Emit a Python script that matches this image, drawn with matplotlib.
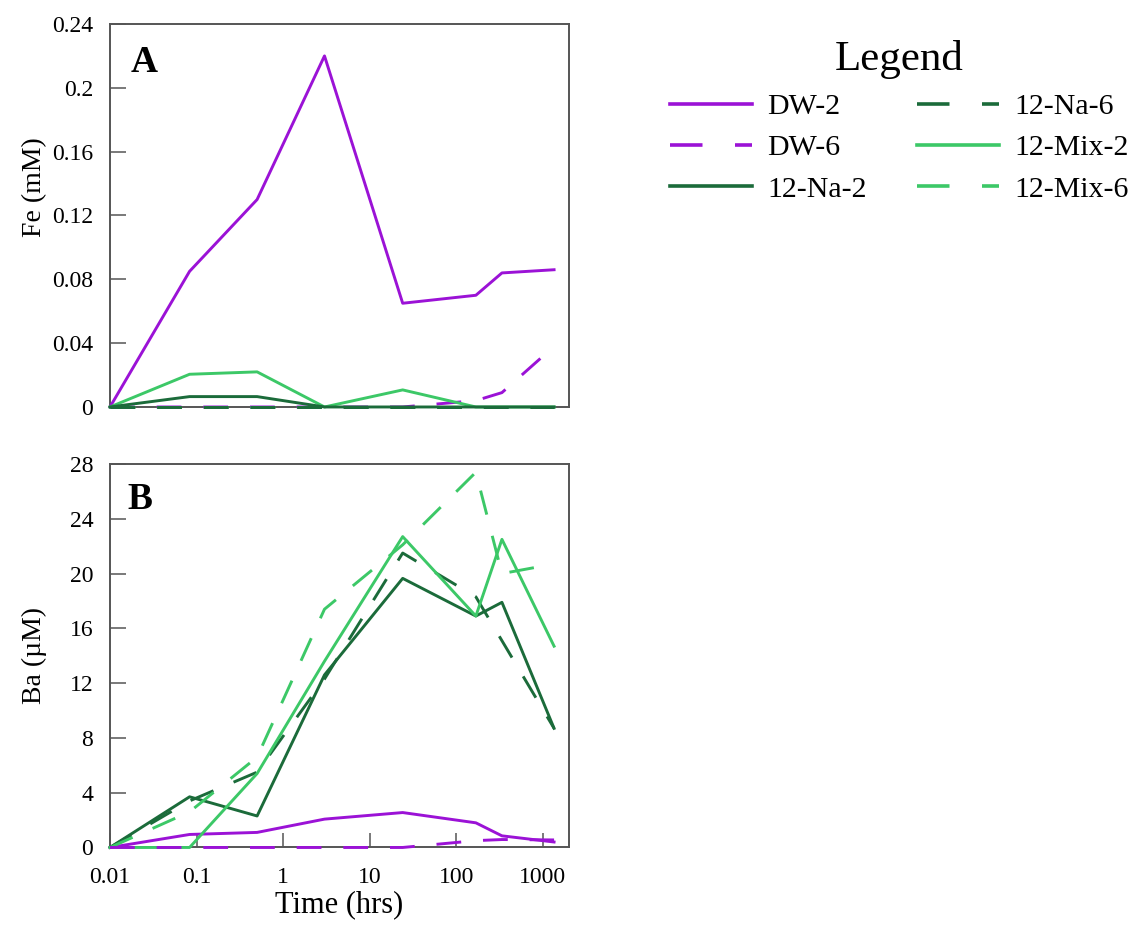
import matplotlib
matplotlib.use("Agg")
import matplotlib.pyplot as plt
from matplotlib.lines import Line2D

plt.rcParams["font.family"] = ["Liberation Serif", "DejaVu Serif"]

# ---- data ----
time_hrs = [0.01, 0.083, 0.5, 3, 24, 168, 336, 1344]
series = ["DW-2", "DW-6", "12-Na-2", "12-Na-6", "12-Mix-2", "12-Mix-6"]

fe_dw2 = [0, 0.085, 0.13, 0.22, 0.065, 0.07, 0.084, 0.086]
fe_dw6 = [0, 0, 0, 0, 0, 0.004, 0.009, 0.038]
fe_na2 = [0, 0.0065, 0.0065, 0, 0, 0, 0, 0]
fe_na6 = [0, 0, 0, 0, 0, 0, 0, 0]
fe_mix2 = [0, 0.0205, 0.022, 0, 0.0107, 0, 0, 0]
fe_mix6 = [0, 0, 0, 0, 0, 0, 0, 0]

ba_dw2 = [0, 0.95, 1.1, 2.07, 2.55, 1.8, 0.85, 0.4]
ba_dw6 = [0, 0, 0, 0, 0, 0.5, 0.58, 0.55]
ba_na2 = [0, 3.7, 2.3, 12.6, 19.65, 16.9, 17.9, 8.7]
ba_na6 = [0, 3.4, 5.5, 12.3, 21.5, 18.3, 15.1, 8.7]
ba_mix2 = [0, 0, 5.4, 13.6, 22.7, 16.9, 22.5, 14.7]
ba_mix6 = [0, 2.6, 6.6, 17.4, 22.1, 27.4, 20.0, 20.7]

fe_ticks = [0, 0.04, 0.08, 0.12, 0.16, 0.2, 0.24]
fe_labels = ["0", "0.04", "0.08", "0.12", "0.16", "0.2", "0.24"]
ba_ticks = [0, 4, 8, 12, 16, 20, 24, 28]
x_ticks = [0.01, 0.1, 1, 10, 100, 1000]
x_labels = ["0.01", "0.1", "1", "10", "100", "1000"]

# ---- styles ----
purple = "#9b12d6"
dkgreen = "#1b6b3a"
ltgreen = "#3cc867"
colors = [purple, purple, dkgreen, dkgreen, ltgreen, ltgreen]
dashed = (0, (8.5, 7.5))
styles = ["-", dashed, "-", dashed, "-", dashed]
spine_c = "#555555"

fig = plt.figure(figsize=(11.41, 9.26), dpi=100)
axA = fig.add_axes([0.0964, 0.5605, 0.4023, 0.4136])
axB = fig.add_axes([0.0964, 0.0848, 0.4023, 0.4141])

fe_data = [fe_dw2, fe_dw6, fe_na2, fe_na6, fe_mix2, fe_mix6]
ba_data = [ba_dw2, ba_dw6, ba_na2, ba_na6, ba_mix2, ba_mix6]
orderA = [0, 1, 5, 4, 3, 2]   # dark green on top at the baseline in A
orderB = [0, 2, 3, 4, 5, 1]

for i in orderA:
    axA.plot(time_hrs, fe_data[i], color=colors[i], ls=styles[i], lw=2.1,
             clip_on=False, zorder=3)
for i in orderB:
    axB.plot(time_hrs, ba_data[i], color=colors[i], ls=styles[i], lw=2.1,
             clip_on=False, zorder=3)

for ax in (axA, axB):
    ax.set_xscale("log")
    ax.set_xlim(0.01, 2000)
    for s in ax.spines.values():
        s.set_color(spine_c)
        s.set_linewidth(1.4)
    ax.tick_params(axis="y", direction="in", length=11.5, width=1.1, color=spine_c,
                   labelsize=17, pad=12)
    ax.tick_params(axis="x", which="minor", length=0)

axA.set_ylim(0, 0.24)
axA.set_yticks(fe_ticks)
axA.set_yticklabels(fe_labels)
axA.set_xticks([])
axA.tick_params(axis="x", which="both", length=0, labelbottom=False)
axA.set_ylabel("Fe (mM)", fontsize=20)
axA.yaxis.set_label_coords(-0.138, 0.575)
axA.text(0.044, 0.875, "A", transform=axA.transAxes, fontsize=27, fontweight="bold")

axB.set_ylim(0, 28)
axB.set_yticks(ba_ticks)
axB.set_xticks(x_ticks)
axB.set_xticklabels(x_labels)
axB.tick_params(axis="x", which="major", direction="in", length=10, width=1.1,
                color=spine_c, labelsize=17, pad=14)
axB.set_ylabel("Ba (µM)", fontsize=20)
axB.yaxis.set_label_coords(-0.138, 0.5)
axB.set_xlabel("Time (hrs)", fontsize=22, labelpad=2)
axB.text(0.037, 0.883, "B", transform=axB.transAxes, fontsize=27, fontweight="bold")

# ---- legend ----
handles = [Line2D([], [], color=colors[i], lw=2.6,
                  ls="-" if styles[i] == "-" else (0, (9, 9)))
           for i in range(6)]
leg = fig.legend(handles, series, loc="upper left", bbox_to_anchor=(670 / 1141, 1 - 40 / 926),
                 ncol=2, frameon=False, fontsize=21.5, title="Legend", title_fontsize=31,
                 handlelength=2.75, handletextpad=0.5, columnspacing=1.7,
                 labelspacing=0.48, borderpad=0, borderaxespad=0)

fig.savefig("out.png", dpi=100)
